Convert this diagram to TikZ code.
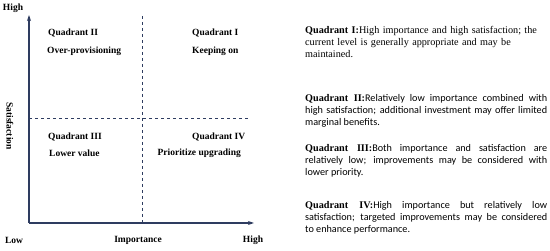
\documentclass[tikz,border=0pt]{standalone}
\usepackage{fontspec}
\setmainfont{Liberation Serif}
\newfontfamily\calfont{Carlito}
\usetikzlibrary{arrows.meta,positioning}
\definecolor{axisblue}{RGB}{46,60,96}

\begin{document}
\begin{tikzpicture}[
    x=1pt,y=-1pt,
    lbl/.style={inner sep=0pt,font=\fontsize{9.5}{10}\selectfont\bfseries},
    desc/.style={anchor=north west,inner sep=0pt,text width=242pt,
                 font=\fontsize{10.2}{12}\selectfont},
    axis/.style={draw=axisblue,line width=1.2pt},
    split/.style={draw=axisblue,dashed,line width=0.6pt},
    >={Stealth[length=6pt,width=4pt]}
  ]
    \useasboundingbox (0,0) rectangle (550,251);
    % axes and quadrant borders
    \coordinate (O) at (29,223);
    \coordinate (ytop) at (29,15);
    \coordinate (xend) at (254,223);
    \coordinate (vtop) at (142,16);
    \coordinate (vbot) at (142,223);
    \coordinate (hleft) at (29,118);
    \coordinate (hright) at (248,118);
    \draw[split] (vtop) -- (vbot);
    \draw[split] (hleft) -- (hright);
    \draw[axis,->] (O) -- (ytop);
    \draw[axis,->] (O) -- (xend);

    \node[lbl] (yhigh) at (13,8) {High};
    \node[lbl] (xlow) at (14,240) {Low};
    \node[lbl] (xname) at (138,240) {Importance};
    \node[lbl] (xhigh) at (253,240) {High};
    \node[lbl,rotate=-90] (yname) at (10,126) {Satisfaction};

    \node[lbl,anchor=west] (q2) at (48,33) {Quadrant II};
    \node[lbl,anchor=west] (q2t) at (47,51) {Over-provisioning};
    \node[lbl,anchor=west] (q1) at (192,33) {Quadrant I};
    \node[lbl,anchor=west] (q1t) at (192,51) {Keeping on};
    \node[lbl,anchor=west] (q3) at (48,137) {Quadrant III};
    \node[lbl,anchor=west] (q3t) at (49,153) {Lower value};
    \node[lbl,anchor=west] (q4) at (192,137) {Quadrant IV};
    \node[lbl,anchor=east] (q4t) at (241,153) {Prioritize upgrading};

    % descriptions
    \node[desc,align=left] (d1) at (305,26)
      {\textbf{Quadrant I:}High importance and high satisfaction; the\\
       current level is generally appropriate and may be\\ maintained.};
    \node[desc,align=justify] (d2) at (305,94)
      {\textbf{Quadrant II:}{\calfont Relatively low importance combined with\linebreak
       high satisfaction; additional investment may offer limited\linebreak
       marginal benefits.}};
    \node[desc,align=justify] (d3) at (305,144)
      {\textbf{Quadrant III:}{\calfont Both importance and satisfaction are\linebreak
       relatively low; improvements may be considered with\linebreak
       lower priority.}};
    \node[desc,align=justify] (d4) at (305,201.5)
      {\textbf{Quadrant IV:}{\calfont High importance but relatively low\linebreak
       satisfaction; targeted improvements may be considered\linebreak
       to enhance performance.}};
  \end{tikzpicture}
\end{document}
